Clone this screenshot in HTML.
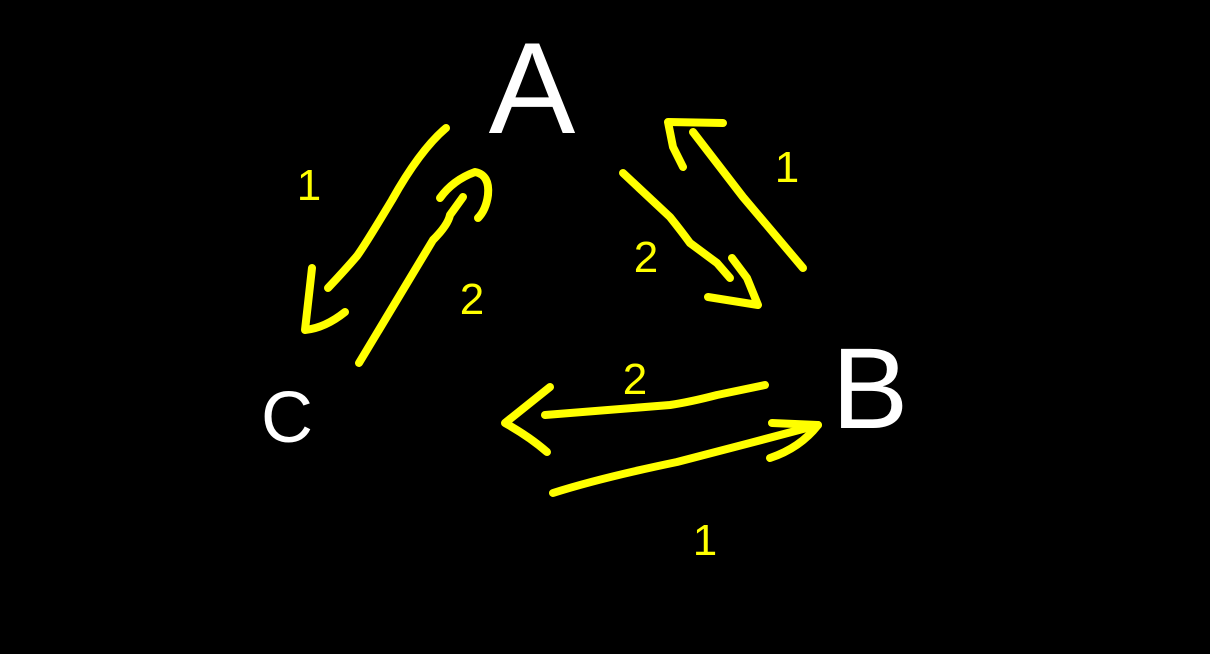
<!DOCTYPE html>
<html><head><meta charset="utf-8"><style>
html,body{margin:0;padding:0;background:#000;width:1210px;height:654px;overflow:hidden}
svg{display:block}
text{font-family:"Liberation Sans",sans-serif}
</style></head><body>
<svg width="1210" height="654" viewBox="0 0 1210 654">
<rect width="1210" height="654" fill="#000"/>
<g fill="none" stroke="#ffff00" stroke-width="8" stroke-linecap="round" stroke-linejoin="round">
 <g>
  <path d="M446,128 Q420,150 392,200 Q365,245 357,256 Q345,270 328,288"/>
  <path d="M312,268 L305,330 Q325,328 345,312"/>
 </g>
 <g>
  <path d="M359,363 L433,240 Q448,225 450,215 L463,197"/>
  <path d="M440,198 Q453,180 475,172 Q490,175 488,195 Q486,210 478,218"/>
 </g>
 <g>
  <path d="M623,173 L670,217 Q682,232 690,243 L717,263 L730,278"/>
  <path d="M732,258 L747,278 L758,305 L708,297"/>
 </g>
 <g>
  <path d="M803,268 L743,197 L693,132"/>
  <path d="M723,123 L668,122 L673,147 L683,167"/>
 </g>
 <g>
  <path d="M765,385 L717,395 Q690,402 670,405 L545,415"/>
  <path d="M550,387 L505,423 Q530,437 547,452"/>
 </g>
 <g>
  <path d="M553,493 Q600,478 677,462 L750,443 L818,425"/>
  <path d="M772,423 L818,425 Q800,448 770,458"/>
 </g>
</g>
<g fill="#ffffff">
 <text x="532" y="133" font-size="130" text-anchor="middle">A</text>
 <text x="870" y="428" font-size="115" text-anchor="middle">B</text>
 <text x="287" y="442" font-size="72" text-anchor="middle">C</text>
</g>
<g fill="#ffff00" font-size="44" text-anchor="middle">
 <text x="309" y="200">1</text>
 <text x="472" y="314">2</text>
 <text x="646" y="272">2</text>
 <text x="787" y="182">1</text>
 <text x="635" y="394">2</text>
 <text x="705" y="555">1</text>
</g>
</svg>
</body></html>
